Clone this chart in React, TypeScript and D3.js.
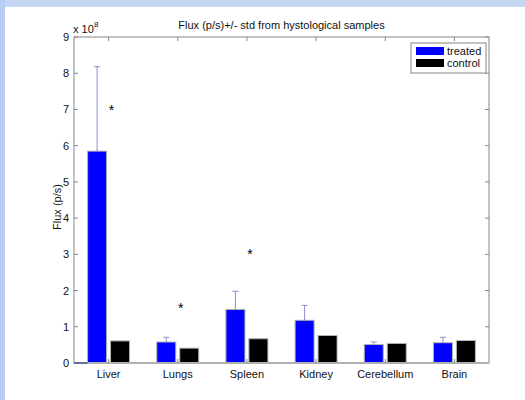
import React from "react";
import * as d3 from "d3";

// values in units of 1e8 p/s
const CATEGORIES = ["Liver", "Lungs", "Spleen", "Kidney", "Cerebellum", "Brain"];
const TREATED = [5.85, 0.58, 1.48, 1.18, 0.51, 0.56];
const TREATED_STD = [2.33, 0.13, 0.5, 0.41, 0.07, 0.15];
const CONTROL = [0.61, 0.41, 0.67, 0.76, 0.54, 0.62];
const Y_TICKS = [0, 1, 2, 3, 4, 5, 6, 7, 8, 9];
const STARS = [
  { cat: 0, value: 7.05 },
  { cat: 1, value: 1.56 },
  { cat: 2, value: 3.07 },
];

const W = 525;
const H = 400;
const PLOT = { left: 74, right: 489, top: 37, bottom: 363 };
const FONT = "'Liberation Sans', Arial, sans-serif";
const AXIS = "#868686";

const App = () => {
  const x = d3
    .scaleLinear()
    .domain([0.5, CATEGORIES.length + 0.5])
    .range([PLOT.left, PLOT.right]);
  const y = d3.scaleLinear().domain([0, 9]).range([PLOT.bottom, PLOT.top]);
  const step = x(2) - x(1);
  const barW = step * 0.275;
  const offset = step * 0.166;
  const tick = 4;

  return (
    <svg
      width={W}
      height={H}
      style={{ position: "absolute", left: 0, top: 0 }}
      fontFamily={FONT}
    >
      <rect x={0} y={0} width={W} height={H} fill="#fff" />
      <rect x={0} y={0} width={W} height={7} fill="#c4d6f2" />
      <rect x={0} y={0} width={5} height={H} fill="#b9cdf4" />

      <text x={(PLOT.left + PLOT.right) / 2} y={29} fontSize={11} textAnchor="middle" fill="#111">
        Flux (p/s)+/- std from hystological samples
      </text>

      {/* y axis labels and ticks */}
      {Y_TICKS.map((t) => (
        <g key={t}>
          <text x={PLOT.left - 5} y={y(t) + 4} fontSize={11} textAnchor="end" fill="#111">
            {t}
          </text>
          <line x1={PLOT.left} x2={PLOT.left + tick} y1={y(t)} y2={y(t)} stroke={AXIS} />
          <line x1={PLOT.right} x2={PLOT.right - tick} y1={y(t)} y2={y(t)} stroke={AXIS} />
        </g>
      ))}
      <text x={PLOT.left - 1} y={33} fontSize={11} fill="#111">
        x 10
      </text>
      <text x={PLOT.left + 20} y={27} fontSize={8} fill="#111">
        8
      </text>
      <text
        transform={`translate(61,${(PLOT.top + PLOT.bottom) / 2 + 7}) rotate(-90)`}
        fontSize={11}
        textAnchor="middle"
        fill="#111"
      >
        Flux (p/s)
      </text>

      {/* bars */}
      {CATEGORIES.map((c, i) => {
        const cx = x(i + 1);
        return (
          <g key={c}>
            <rect
              x={cx - offset - barW / 2}
              y={y(TREATED[i])}
              width={barW}
              height={y(0) - y(TREATED[i])}
              fill="#0000ff"
              stroke="#b4b4b4"
              strokeWidth={1}
            />
            <rect
              x={cx + offset - barW / 2}
              y={y(CONTROL[i])}
              width={barW}
              height={y(0) - y(CONTROL[i])}
              fill="#000"
              stroke="#b4b4b4"
              strokeWidth={1}
            />
            <line
              x1={cx - offset}
              x2={cx - offset}
              y1={y(TREATED[i])}
              y2={y(TREATED[i] + TREATED_STD[i])}
              stroke="#8e8ed0"
            />
            <line
              x1={cx - offset - 3}
              x2={cx - offset + 3}
              y1={y(TREATED[i] + TREATED_STD[i])}
              y2={y(TREATED[i] + TREATED_STD[i])}
              stroke="#8e8ed0"
            />
          </g>
        );
      })}

      {STARS.map((s) => (
        <text
          key={s.cat}
          x={x(s.cat + 1) + 3}
          y={y(s.value) + 7}
          fontSize={14}
          textAnchor="middle"
          fill="#000"
        >
          *
        </text>
      ))}

      {/* box */}
      <rect
        x={PLOT.left}
        y={PLOT.top}
        width={PLOT.right - PLOT.left}
        height={PLOT.bottom - PLOT.top}
        fill="none"
        stroke={AXIS}
      />
      <line x1={PLOT.left} x2={PLOT.right} y1={PLOT.bottom} y2={PLOT.bottom} stroke="#b0b0b0" strokeWidth={2} />
      <line
        x1={PLOT.left}
        x2={x(1) - offset - barW / 2}
        y1={PLOT.bottom}
        y2={PLOT.bottom}
        stroke="#1a2a8a"
        strokeWidth={1}
      />

      {/* x ticks and labels */}
      {CATEGORIES.map((c, i) => (
        <g key={c}>
          <line x1={x(i + 1)} x2={x(i + 1)} y1={PLOT.bottom} y2={PLOT.bottom - tick} stroke={AXIS} />
          <line x1={x(i + 1)} x2={x(i + 1)} y1={PLOT.top} y2={PLOT.top + tick} stroke={AXIS} />
          <text x={x(i + 1)} y={PLOT.bottom + 15} fontSize={11} textAnchor="middle" fill="#111">
            {c}
          </text>
        </g>
      ))}

      {/* legend */}
      <rect x={411} y={43} width={75} height={30} fill="#fff" stroke={AXIS} />
      <rect x={416} y={47} width={28} height={8} fill="#0000ff" />
      <rect x={416} y={59} width={28} height={8} fill="#000" />
      <text x={447} y={55} fontSize={11} fill="#111">
        treated
      </text>
      <text x={447} y={67} fontSize={11} fill="#111">
        control
      </text>
    </svg>
  );
};

export default App;
